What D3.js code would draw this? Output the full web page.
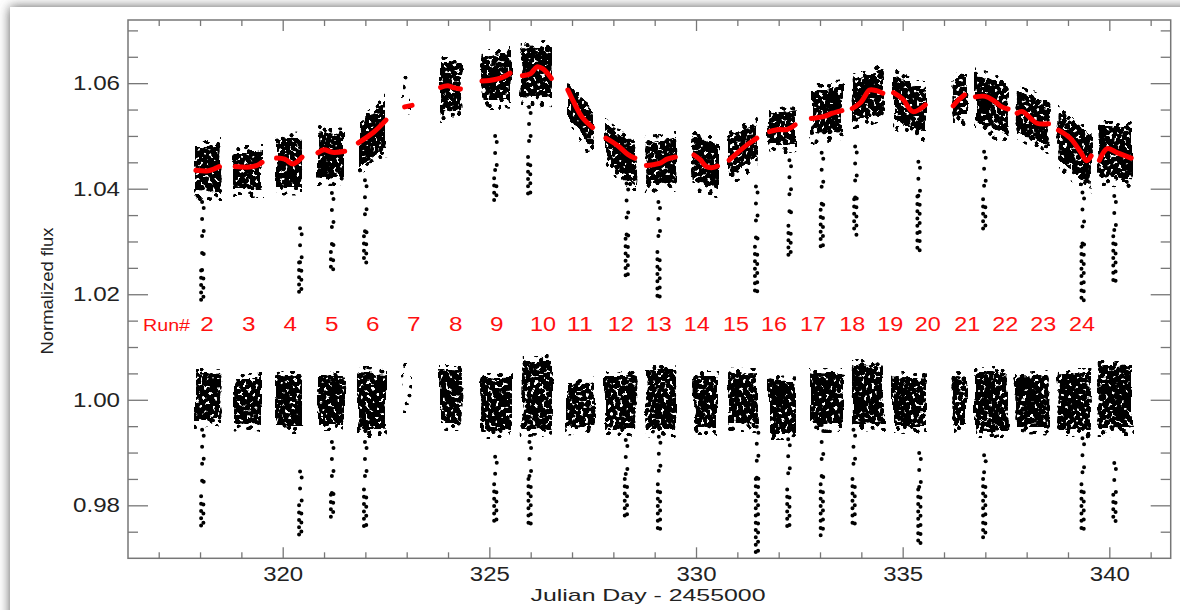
<!DOCTYPE html>
<html>
<head>
<meta charset="utf-8">
<script src="https://cdn.jsdelivr.net/npm/d3@7"></script>
<style>
  html, body { margin: 0; padding: 0; background: #fff; }
  svg { display: block; font-family: "Liberation Sans", Arial, sans-serif; }
</style>
</head>
<body>
<div id="chart"></div>
<script>
// ---- data (flux vs. JD - 2455000) ----
var runNumbers = [2, 3, 4, 5, 6, 7, 8, 9, 10, 11, 12, 13, 14, 15, 16, 17, 18, 19, 20, 21, 22, 23, 24];
var runLabelDays = [318.17, 319.18, 320.18, 321.19, 322.18, 323.17, 324.19, 325.18, 326.30, 327.19, 328.18,
  329.10, 330.02, 330.97, 331.89, 332.83, 333.78, 334.70, 335.61, 336.56, 337.48, 338.40, 339.34];
var runTitleDay = 317.19;

// start / end of each night
var nightSpan = [[317.88, 318.49], [318.83, 319.50], [319.84, 320.47], [320.83, 321.51], [321.82, 322.50],
  [322.89, 323.13], [323.81, 324.32], [324.81, 325.52], [325.78, 326.51], [326.88, 327.52], [327.80, 328.53],
  [328.78, 329.52], [329.94, 330.53], [330.78, 331.49], [331.77, 332.42], [332.78, 333.55], [333.77, 334.54],
  [334.77, 335.56], [336.21, 336.56], [336.75, 337.56], [337.76, 338.55], [338.75, 339.57], [339.74, 340.55]];

// raw flux cloud, upper and lower edge at night start / end
var rawUpper = [[1.0475, 1.0485], [1.0468, 1.0475], [1.0492, 1.0495], [1.0508, 1.0508], [1.0525, 1.0568],
  [1.0615, 1.0615], [1.0640, 1.0640], [1.0650, 1.0660], [1.0665, 1.0668], [1.0605, 1.0545], [1.0525, 1.0478],
  [1.0485, 1.0500], [1.0500, 1.0482], [1.0500, 1.0528], [1.0545, 1.0550], [1.0585, 1.0590], [1.0605, 1.0628],
  [1.0615, 1.0595], [1.0605, 1.0618], [1.0618, 1.0595], [1.0585, 1.0565], [1.0550, 1.0495], [1.0520, 1.0515]];
var rawLower = [[1.0395, 1.0395], [1.0400, 1.0400], [1.0405, 1.0405], [1.0425, 1.0425], [1.0440, 1.0480],
  [1.0540, 1.0540], [1.0545, 1.0545], [1.0570, 1.0572], [1.0575, 1.0572], [1.0540, 1.0470], [1.0465, 1.0405],
  [1.0410, 1.0412], [1.0410, 1.0400], [1.0425, 1.0458], [1.0482, 1.0485], [1.0505, 1.0505], [1.0530, 1.0545],
  [1.0530, 1.0505], [1.0535, 1.0540], [1.0530, 1.0500], [1.0510, 1.0480], [1.0455, 1.0410], [1.0420, 1.0418]];

// detrended flux cloud around 1.00, upper / lower edge
var flatUpper = [1.0050, 1.0041, 1.0044, 1.0044, 1.0050, 1.0069, 1.0056, 1.0041, 1.0075, 1.0034, 1.0044, 1.0056,
  1.0047, 1.0050, 1.0038, 1.0050, 1.0063, 1.0044, 1.0044, 1.0050, 1.0044, 1.0050, 1.0063];
var flatLower = [0.9962, 0.9955, 0.9952, 0.9952, 0.9943, 0.9975, 0.9956, 0.9943, 0.9943, 0.9949, 0.9943, 0.9943,
  0.9946, 0.9956, 0.9940, 0.9956, 0.9952, 0.9952, 0.9952, 0.9943, 0.9949, 0.9943, 0.9946];

var sparseRuns = [7];

// red trend fitted to each night
var trend = [
  [[317.90, 1.0435], [318.20, 1.0434], [318.47, 1.0442]],
  [[318.85, 1.0442], [319.20, 1.0441], [319.40, 1.0445], [319.50, 1.0450]],
  [[319.85, 1.0458], [320.05, 1.0456], [320.25, 1.0447], [320.47, 1.0460]],
  [[320.85, 1.0468], [321.00, 1.0474], [321.20, 1.0469], [321.50, 1.0471]],
  [[321.83, 1.0487], [322.20, 1.0507], [322.50, 1.0530]],
  [[322.95, 1.0555], [323.13, 1.0558]],
  [[323.82, 1.0592], [324.00, 1.0595], [324.15, 1.0591], [324.30, 1.0589]],
  [[324.82, 1.0604], [325.00, 1.0605], [325.20, 1.0608], [325.35, 1.0612], [325.50, 1.0619]],
  [[325.80, 1.0614], [326.00, 1.0618], [326.15, 1.0631], [326.30, 1.0627], [326.50, 1.0609]],
  [[326.90, 1.0587], [327.05, 1.0563], [327.25, 1.0535], [327.50, 1.0516]],
  [[327.82, 1.0496], [328.10, 1.0482], [328.35, 1.0465], [328.52, 1.0458]],
  [[328.80, 1.0444], [329.00, 1.0446], [329.15, 1.0449], [329.30, 1.0456], [329.50, 1.0460]],
  [[329.95, 1.0464], [330.10, 1.0455], [330.25, 1.0442], [330.40, 1.0440], [330.52, 1.0443]],
  [[330.80, 1.0454], [331.00, 1.0468], [331.25, 1.0484], [331.47, 1.0496]],
  [[331.78, 1.0508], [332.00, 1.0512], [332.20, 1.0512], [332.40, 1.0521]],
  [[332.79, 1.0533], [333.10, 1.0537], [333.30, 1.0543], [333.53, 1.0548]],
  [[333.78, 1.0552], [334.00, 1.0565], [334.20, 1.0587], [334.35, 1.0586], [334.52, 1.0581]],
  [[334.78, 1.0582], [335.00, 1.0570], [335.25, 1.0546], [335.55, 1.0559]],
  [[336.22, 1.0557], [336.35, 1.0568], [336.50, 1.0578]],
  [[336.76, 1.0574], [337.00, 1.0575], [337.20, 1.0567], [337.40, 1.0555], [337.55, 1.0551]],
  [[337.77, 1.0543], [337.90, 1.0546], [338.10, 1.0533], [338.25, 1.0524], [338.53, 1.0523]],
  [[338.77, 1.0511], [339.05, 1.0496], [339.30, 1.0470], [339.45, 1.0453], [339.56, 1.0462]],
  [[339.76, 1.0454], [339.95, 1.0476], [340.20, 1.0468], [340.53, 1.0458]]
];

// transits: [day, first point, start of dense part, deepest point]
var rawDips = [
  [318.05, 1.0375, 1.0245, 1.0185], [320.42, 1.0325, 1.0260, 1.0202], [321.19, 1.0392, 1.0280, 1.0240],
  [321.99, 1.0416, 1.0310, 1.0255], [325.14, 1.0500, 1.0420, 1.0373], [325.96, 1.0555, 1.0460, 1.0378],
  [328.32, 1.0410, 1.0305, 1.0233], [329.09, 1.0375, 1.0280, 1.0195], [331.45, 1.0404, 1.0290, 1.0205],
  [332.26, 1.0454, 1.0330, 1.0265], [333.04, 1.0468, 1.0360, 1.0281], [333.85, 1.0480, 1.0380, 1.0312],
  [335.38, 1.0451, 1.0385, 1.0280], [336.97, 1.0470, 1.0380, 1.0320], [339.35, 1.0393, 1.0290, 1.0188],
  [340.12, 1.0386, 1.0310, 1.0225]
];
var flatDips = [
  [318.05, 0.9943, 0.9817, 0.9753], [320.42, 0.9864, 0.9800, 0.9741], [321.19, 0.9920, 0.9820, 0.9772],
  [321.99, 0.9920, 0.9830, 0.9757], [325.14, 0.9892, 0.9840, 0.9763], [325.97, 0.9920, 0.9850, 0.9763],
  [328.30, 0.9924, 0.9850, 0.9772], [329.10, 0.9930, 0.9840, 0.9747], [331.47, 0.9949, 0.9850, 0.9709],
  [332.23, 0.9925, 0.9830, 0.9750], [333.04, 0.9952, 0.9840, 0.9741], [333.81, 0.9943, 0.9850, 0.9759],
  [335.40, 0.9899, 0.9830, 0.9728], [336.97, 0.9895, 0.9850, 0.9737], [339.35, 0.9927, 0.9840, 0.9750],
  [340.12, 0.9880, 0.9820, 0.9766]
];

var xTicks = [320, 325, 330, 335, 340];
var xMinorTicks = [317, 318, 319, 321, 322, 323, 324, 326, 327, 328, 329, 331, 332, 333, 334, 336, 337, 338, 339, 341];
var yTicks = [0.98, 1.00, 1.02, 1.04, 1.06];
var yMinorTicks = [0.975, 0.985, 0.99, 0.995, 1.005, 1.01, 1.015, 1.025, 1.03, 1.035, 1.045, 1.05, 1.055, 1.065, 1.07];

// ---- layout ----
var margin = { top: 20, right: 9.3, bottom: 51.7, left: 128 },
  frame = { width: 1180, height: 610 },
  width = frame.width - margin.left - margin.right,
  height = frame.height - margin.top - margin.bottom;

var x = d3.scaleLinear().domain([316.257, 341.485]).range([0, width]);
var y = d3.scaleLinear().domain([0.96996, 1.07197]).range([height, 0]);

var root = d3.select('#chart').append('svg')
  .attr('width', frame.width)
  .attr('height', frame.height);

var defs = root.append('defs');

// soft shadow round the white card
var shadow = defs.append('filter').attr('id', 'cardShadow')
  .attr('x', -0.1).attr('y', -0.1).attr('width', 1.2).attr('height', 1.2);
shadow.append('feGaussianBlur').attr('in', 'SourceAlpha').attr('stdDeviation', 6).attr('result', 'blur');
shadow.append('feFlood').attr('flood-color', '#5a5a5a');
shadow.append('feComposite').attr('in2', 'blur').attr('operator', 'in').attr('result', 'sh');
var merge = shadow.append('feMerge');
merge.append('feMergeNode').attr('in', 'sh');
merge.append('feMergeNode').attr('in', 'SourceGraphic');

root.append('rect')
  .attr('x', 10).attr('y', 7)
  .attr('width', 1250).attr('height', 700)
  .attr('fill', '#fff')
  .attr('filter', 'url(#cardShadow)');

// dot lattices; overlaying tilted lattices of unequal pitch gives an irregular stipple
function dotPattern(id, w, h, r, angle) {
  defs.append('pattern').attr('id', id)
    .attr('patternUnits', 'userSpaceOnUse')
    .attr('width', w).attr('height', h)
    .attr('patternTransform', 'rotate(' + angle + ')')
    .append('circle').attr('cx', w / 2).attr('cy', h / 2).attr('r', r);
}
dotPattern('latA', 5.9, 5.3, 2.1, 17);
dotPattern('latB', 7.3, 6.7, 2.1, -29);
dotPattern('latC', 6.1, 8.3, 2.1, 53);
dotPattern('latF', 6.7, 5.9, 2.1, 71);
dotPattern('latD', 10.7, 9.1, 2.1, 11);
dotPattern('latE', 13.9, 7.7, 2.1, -41);
var denseFill = ['latA', 'latB', 'latC', 'latF'];
var fringeFill = ['latD', 'latE'];

// gentle warp so the lattices lose their straight rows; alpha cut drops clipped slivers
var warp = defs.append('filter').attr('id', 'warp')
  .attr('filterUnits', 'userSpaceOnUse')
  .attr('x', 0).attr('y', 0).attr('width', frame.width).attr('height', frame.height);
warp.append('feTurbulence').attr('type', 'fractalNoise')
  .attr('baseFrequency', 0.04).attr('numOctaves', 1).attr('seed', 4).attr('result', 'noise');
warp.append('feDisplacementMap').attr('in', 'SourceGraphic').attr('in2', 'noise')
  .attr('scale', 9).attr('xChannelSelector', 'R').attr('yChannelSelector', 'G').attr('result', 'moved');
warp.append('feComponentTransfer').attr('in', 'moved')
  .append('feFuncA').attr('type', 'linear').attr('slope', 3).attr('intercept', -1);

defs.append('clipPath').attr('id', 'plotClip')
  .append('rect').attr('width', width).attr('height', height);

var svg = root.append('g')
  .attr('transform', 'translate(' + margin.left + ',' + margin.top + ')');

var area = d3.line()
  .x(function (d) { return x(d[0]); })
  .y(function (d) { return y(d[1]); });

// ---- point clouds ----
var plotArea = svg.append('g').attr('clip-path', 'url(#plotClip)');
var clouds = plotArea.append('g').attr('filter', 'url(#warp)');

function cloud(poly, fills) {
  var d = area(poly) + 'Z';
  fills.forEach(function (f) {
    clouds.append('path').attr('d', d).attr('fill', 'url(#' + f + ')');
  });
}

nightSpan.forEach(function (span, i) {
  var s = span[0], e = span[1];
  var isSparse = sparseRuns.indexOf(runNumbers[i]) >= 0;
  var core = isSparse ? ['latD'] : denseFill;

  // raw light curve
  if (!isSparse) {
    cloud([[s, rawUpper[i][0] + 0.0012], [e, rawUpper[i][1] + 0.0012],
      [e, rawLower[i][1] - 0.0018], [s, rawLower[i][0] - 0.0018]], fringeFill);
  }
  cloud([[s, rawUpper[i][0]], [e, rawUpper[i][1]], [e, rawLower[i][1]], [s, rawLower[i][0]]], core);

  // detrended light curve
  if (!isSparse) {
    cloud([[s, flatUpper[i] + 0.0010], [e, flatUpper[i] + 0.0010],
      [e, flatLower[i] - 0.0015], [s, flatLower[i] - 0.0015]], fringeFill);
  }
  cloud([[s, flatUpper[i]], [e, flatUpper[i]], [e, flatLower[i]], [s, flatLower[i]]], core);
});

// transit points: sparse ingress, denser bottom
var dips = plotArea.append('g');
function dotColumn(px, y1, y2, gap, offset) {
  dips.append('line')
    .attr('x1', px).attr('x2', px)
    .attr('y1', y1).attr('y2', y2)
    .attr('stroke', '#000').attr('stroke-width', 4)
    .attr('stroke-linecap', 'round')
    .attr('stroke-dasharray', '0 ' + gap)
    .attr('stroke-dashoffset', offset);
}
function drawDips(list) {
  list.forEach(function (d) {
    var px = x(d[0]);
    dotColumn(px, y(d[1]), y(d[2]), 17, 0);
    dotColumn(px + 1.6, y(d[1]) + 6, y(d[2]), 23, 0);
    dotColumn(px - 1, y(d[2]), y(d[3]), 7.3, 0);
    dotColumn(px + 1.3, y(d[2]) + 2, y(d[3]), 9.1, 3);
  });
}
drawDips(rawDips);
drawDips(flatDips);

// ---- red trend lines ----
var trendLine = d3.line()
  .x(function (d) { return x(d[0]); })
  .y(function (d) { return y(d[1]); })
  .curve(d3.curveCatmullRom);

svg.append('g').selectAll('path')
  .data(trend)
  .enter().append('path')
  .attr('d', trendLine)
  .attr('fill', 'none')
  .attr('stroke', '#ff0000')
  .attr('stroke-width', 5)
  .attr('stroke-linecap', 'round')
  .attr('stroke-linejoin', 'round');

// ---- run labels ----
var labelBase = 311;
svg.append('text')
  .attr('x', x(runTitleDay)).attr('y', labelBase)
  .attr('text-anchor', 'middle')
  .attr('font-size', 16)
  .attr('fill', '#ff1010')
  .attr('textLength', 47).attr('lengthAdjust', 'spacingAndGlyphs')
  .text('Run#');

svg.append('g').selectAll('text')
  .data(runNumbers)
  .enter().append('text')
  .attr('x', function (d, i) { return x(runLabelDays[i]); })
  .attr('y', labelBase)
  .attr('text-anchor', 'middle')
  .attr('font-size', 20)
  .attr('fill', '#ff1010')
  .attr('textLength', function (d) { return d < 10 ? 13.5 : 26; })
  .attr('lengthAdjust', 'spacingAndGlyphs')
  .text(function (d) { return d; });

// ---- axes ----
function cleanAxis(g) {
  g.select('.domain').remove();
  g.selectAll('line').attr('stroke', '#777').attr('stroke-width', 1.3);
}

svg.append('g').attr('transform', 'translate(0,' + height + ')')
  .call(d3.axisBottom(x).tickValues(xTicks).tickSize(-11).tickPadding(9).tickFormat(d3.format('d')))
  .call(cleanAxis)
  .call(function (g) {
    g.selectAll('text').attr('font-size', 20).attr('fill', '#222')
      .attr('font-family', '"Liberation Sans", Arial, sans-serif')
      .attr('textLength', 40).attr('lengthAdjust', 'spacingAndGlyphs');
  });
svg.append('g').attr('transform', 'translate(0,' + height + ')')
  .call(d3.axisBottom(x).tickValues(xMinorTicks).tickSize(-6).tickFormat(''))
  .call(cleanAxis);
svg.append('g')
  .call(d3.axisTop(x).tickValues(xTicks).tickSize(-11).tickFormat(''))
  .call(cleanAxis);
svg.append('g')
  .call(d3.axisTop(x).tickValues(xMinorTicks).tickSize(-6).tickFormat(''))
  .call(cleanAxis);

svg.append('g')
  .call(d3.axisLeft(y).tickValues(yTicks).tickSize(-20).tickPadding(8).tickFormat(d3.format('.2f')))
  .call(cleanAxis)
  .call(function (g) {
    g.selectAll('text').attr('font-size', 20).attr('fill', '#222')
      .attr('font-family', '"Liberation Sans", Arial, sans-serif')
      .attr('textLength', 47).attr('lengthAdjust', 'spacingAndGlyphs');
  });
svg.append('g')
  .call(d3.axisLeft(y).tickValues(yMinorTicks).tickSize(-10).tickFormat(''))
  .call(cleanAxis);
svg.append('g').attr('transform', 'translate(' + width + ',0)')
  .call(d3.axisRight(y).tickValues(yTicks).tickSize(-20).tickFormat(''))
  .call(cleanAxis);
svg.append('g').attr('transform', 'translate(' + width + ',0)')
  .call(d3.axisRight(y).tickValues(yMinorTicks).tickSize(-10).tickFormat(''))
  .call(cleanAxis);

svg.append('rect')
  .attr('width', width).attr('height', height)
  .attr('fill', 'none')
  .attr('stroke', '#777')
  .attr('stroke-width', 1.5);

// axis titles
svg.append('text')
  .attr('x', 648 - margin.left).attr('y', 601 - margin.top)
  .attr('text-anchor', 'middle')
  .attr('font-size', 17)
  .attr('fill', '#222')
  .attr('textLength', 235).attr('lengthAdjust', 'spacingAndGlyphs')
  .text('Julian Day - 2455000');

svg.append('text')
  .attr('transform', 'translate(' + (53 - margin.left) + ',' + (291 - margin.top) + ') rotate(-90)')
  .attr('text-anchor', 'middle')
  .attr('font-size', 17)
  .attr('fill', '#222')
  .attr('textLength', 127).attr('lengthAdjust', 'spacingAndGlyphs')
  .text('Normalized flux');
</script>
</body>
</html>
